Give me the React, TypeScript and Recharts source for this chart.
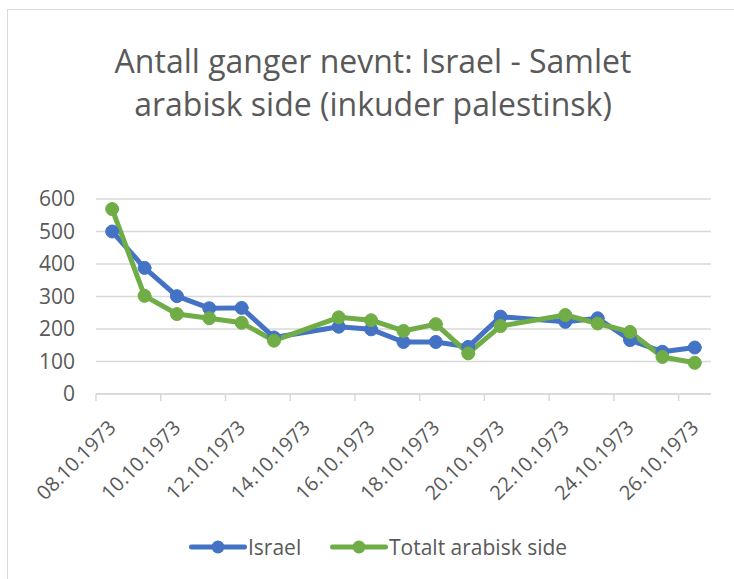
import React from 'react';
import { LineChart, Line, XAxis, YAxis, CartesianGrid } from 'recharts';

const dates = [
  '08.10.1973', '09.10.1973', '10.10.1973', '11.10.1973', '12.10.1973', '13.10.1973', '14.10.1973',
  '15.10.1973', '16.10.1973', '17.10.1973', '18.10.1973', '19.10.1973', '20.10.1973', '21.10.1973',
  '22.10.1973', '23.10.1973', '24.10.1973', '25.10.1973', '26.10.1973',
];
const israel: (number | null)[] = [500, 388, 301, 264, 265, 174, null, 207, 199, 160, 160, 145, 238, null, 222, 233, 166, 130, 143];
const arabisk: (number | null)[] = [569, 302, 246, 233, 219, 164, null, 236, 227, 194, 215, 125, 209, null, 243, 217, 191, 114, 96];
const yTicks = [0, 100, 200, 300, 400, 500, 600];
const titleLines = ['Antall ganger nevnt: Israel - Samlet', 'arabisk side (inkuder palestinsk)'];
const seriesNames = ['Israel', 'Totalt arabisk side'];

const BLUE = '#4472C4';
const GREEN = '#70AD47';
const GRID = '#D9D9D9';
const TEXT = '#595959';
const FONT = '"Open Sans", sans-serif';

const data = dates.map((d, i) => ({ i, date: d, israel: israel[i], arabisk: arabisk[i] }));

// label ticks at every other day (centre), tick marks on category boundaries
const xTicks: number[] = [];
for (let k = 0; k < dates.length; k += 2) {
  xTicks.push(k - 0.5);
  xTicks.push(k);
}

const XTick = (props: any) => {
  const { x, y, payload } = props;
  const v = payload.value as number;
  if (!Number.isInteger(v)) {
    return <line x1={x} x2={x} y1={y} y2={y + 7} stroke={GRID} strokeWidth={1.5} />;
  }
  const ax = x + 5;
  const ay = y + 35;
  return (
    <text
      x={ax}
      y={ay}
      transform={`rotate(-45, ${ax}, ${ay})`}
      textAnchor="end"
      fill={TEXT}
      fontSize={20}
      fontFamily={FONT}
    >
      {dates[v]}
    </text>
  );
};

const LegendItem = ({ color, label, left }: { color: string; label: string; left: number }) => (
  <div style={{ position: 'absolute', left, top: 536, height: 22, display: 'flex', alignItems: 'center' }}>
    <svg width={58} height={22} style={{ display: 'block' }}>
      <line x1={2.5} x2={55.5} y1={11} y2={11} stroke={color} strokeWidth={5} strokeLinecap="round" />
      <circle cx={29} cy={11} r={6.5} fill={color} />
    </svg>
    <span style={{ fontFamily: FONT, fontSize: 21, color: TEXT, marginLeft: 1, lineHeight: '22px' }}>{label}</span>
  </div>
);

export default function App() {
  return (
    <div style={{ position: 'fixed', left: 0, top: 0, width: 734, height: 579, overflow: 'hidden', background: '#fff' }}>
      <div
        style={{
          position: 'absolute', left: 7, top: 9, width: 800, height: 700,
          borderLeft: `1.5px solid ${GRID}`, borderTop: `1.5px solid ${GRID}`,
        }}
      />
      <div
        style={{
          position: 'absolute', left: 0, top: 39, width: 746, textAlign: 'center',
          fontFamily: FONT, fontSize: 32, fontWeight: 400, color: TEXT, lineHeight: '43px', whiteSpace: 'nowrap',
        }}
      >
        {titleLines[0]}
        <br />
        {titleLines[1]}
      </div>
      <div style={{ position: 'absolute', left: 0, top: 0 }}>
        <LineChart width={734} height={579} data={data} margin={{ top: 199, right: 23, left: 46, bottom: 65 }}>
          <CartesianGrid vertical={false} stroke={GRID} strokeWidth={1.5} />
          <XAxis
            dataKey="i"
            type="number"
            domain={[-0.5, 18.5]}
            ticks={xTicks}
            interval={0}
            height={120}
            tickLine={false}
            tickSize={0}
            tickMargin={0}
            axisLine={{ stroke: GRID, strokeWidth: 1.5 }}
            tick={<XTick />}
          />
          <YAxis
            domain={[0, 600]}
            ticks={yTicks}
            width={50}
            axisLine={false}
            tickLine={false}
            tickSize={0}
            tickMargin={21}
            tick={{ fill: TEXT, fontSize: 21, fontFamily: FONT }}
          />
          <Line
            dataKey="israel"
            name={seriesNames[0]}
            stroke={BLUE}
            strokeWidth={5}
            strokeLinejoin="round"
            strokeLinecap="round"
            connectNulls
            dot={{ r: 6.5, fill: BLUE, stroke: BLUE, strokeWidth: 1 }}
            activeDot={false}
            isAnimationActive={false}
          />
          <Line
            dataKey="arabisk"
            name={seriesNames[1]}
            stroke={GREEN}
            strokeWidth={5}
            strokeLinejoin="round"
            strokeLinecap="round"
            connectNulls
            dot={{ r: 6.5, fill: GREEN, stroke: GREEN, strokeWidth: 1 }}
            activeDot={false}
            isAnimationActive={false}
          />
        </LineChart>
      </div>
      <LegendItem color={BLUE} label={seriesNames[0]} left={189} />
      <LegendItem color={GREEN} label={seriesNames[1]} left={330} />
    </div>
  );
}
